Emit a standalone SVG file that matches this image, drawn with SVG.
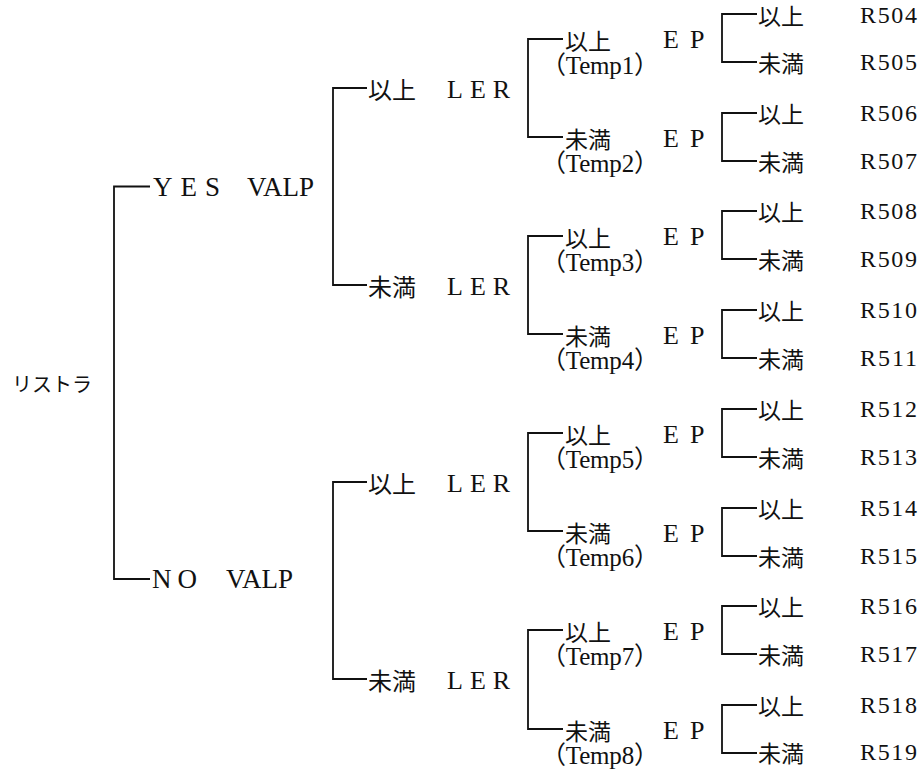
<svg xmlns="http://www.w3.org/2000/svg" width="922" height="769" viewBox="0 0 922 769">
<style>
  .ln { stroke: #111; stroke-width: 1.8; fill: none; }
  text { fill: #111; dominant-baseline: central; }
  .lat { font-family: "Liberation Serif", "Times New Roman", serif; }
  .jp { font-family: "Noto Sans CJK JP", sans-serif; font-size: 23px; }
  .jpb { font-family: "Noto Sans CJK JP", sans-serif; font-size: 24px; }
  .big { font-size: 27px; }
  .ler { font-size: 26px; letter-spacing: 7px; }
  .ep { font-size: 26px; letter-spacing: 11px; }
  .rc { font-size: 24px; }
  .tmp { font-family: "Liberation Serif", "Noto Sans CJK JP", serif; font-size: 25px; }
</style>
<rect width="922" height="769" fill="#fff"/>

<g id="connectors">
  <path class="ln" d="M150,186.5 H114 V579 H150"/>
  <path class="ln" d="M367,88 H333 V285 H367"/>
  <path class="ln" d="M367,482 H333 V679 H367"/>
  <path class="ln" d="M563,39 H528 V137 H563"/>
  <path class="ln" d="M563,236 H528 V334 H563"/>
  <path class="ln" d="M563,433 H528 V531 H563"/>
  <path class="ln" d="M563,630 H528 V729 H563"/>
  <path class="ln" d="M757,14 H722 V62 H757"/>
  <path class="ln" d="M757,113 H722 V161 H757"/>
  <path class="ln" d="M757,211 H722 V259 H757"/>
  <path class="ln" d="M757,310 H722 V358 H757"/>
  <path class="ln" d="M757,409 H722 V457 H757"/>
  <path class="ln" d="M757,508 H722 V556 H757"/>
  <path class="ln" d="M757,606 H722 V654 H757"/>
  <path class="ln" d="M757,705 H722 V753 H757"/>
</g>

<g id="root"><text class="jp" x="12" y="383" style="font-size:20px">リストラ</text></g>

<g id="yes"><text class="lat big" x="153" y="186.5" style="letter-spacing:8px">YES</text><text class="lat big" x="247" y="186.5">VALP</text></g>
<g id="no"><text class="lat big" x="152" y="579" style="letter-spacing:6px">NO</text><text class="lat big" x="226" y="579">VALP</text></g>

<g id="ler1"><text class="jpb" x="368" y="88">以上</text><text class="lat ler" x="447" y="89">LER</text></g>
<g id="ler2"><text class="jpb" x="368" y="285">未満</text><text class="lat ler" x="447" y="286">LER</text></g>
<g id="ler3"><text class="jpb" x="368" y="482">以上</text><text class="lat ler" x="447" y="483">LER</text></g>
<g id="ler4"><text class="jpb" x="368" y="679">未満</text><text class="lat ler" x="447" y="680">LER</text></g>

<g id="temp1"><text class="jp" x="565" y="40">以上</text><text class="tmp" x="541" y="65" textLength="118">（Temp1）</text></g>
<g id="temp2"><text class="jp" x="565" y="138">未満</text><text class="tmp" x="541" y="163" textLength="118">（Temp2）</text></g>
<g id="temp3"><text class="jp" x="565" y="237">以上</text><text class="tmp" x="541" y="262" textLength="118">（Temp3）</text></g>
<g id="temp4"><text class="jp" x="565" y="335">未満</text><text class="tmp" x="541" y="360" textLength="118">（Temp4）</text></g>
<g id="temp5"><text class="jp" x="565" y="434">以上</text><text class="tmp" x="541" y="459" textLength="118">（Temp5）</text></g>
<g id="temp6"><text class="jp" x="565" y="532">未満</text><text class="tmp" x="541" y="557" textLength="118">（Temp6）</text></g>
<g id="temp7"><text class="jp" x="565" y="631">以上</text><text class="tmp" x="541" y="656" textLength="118">（Temp7）</text></g>
<g id="temp8"><text class="jp" x="565" y="730">未満</text><text class="tmp" x="541" y="755" textLength="118">（Temp8）</text></g>

<g id="ep1"><text class="lat ep" x="663" y="39">EP</text></g>
<g id="ep2"><text class="lat ep" x="663" y="138">EP</text></g>
<g id="ep3"><text class="lat ep" x="663" y="236">EP</text></g>
<g id="ep4"><text class="lat ep" x="663" y="335">EP</text></g>
<g id="ep5"><text class="lat ep" x="663" y="434">EP</text></g>
<g id="ep6"><text class="lat ep" x="663" y="533">EP</text></g>
<g id="ep7"><text class="lat ep" x="663" y="631">EP</text></g>
<g id="ep8"><text class="lat ep" x="663" y="730">EP</text></g>

<g id="r504"><text class="jp" x="758" y="15">以上</text><text class="lat rc" x="860" y="15" textLength="57">R504</text></g>
<g id="r505"><text class="jp" x="758" y="62">未満</text><text class="lat rc" x="860" y="62" textLength="57">R505</text></g>
<g id="r506"><text class="jp" x="758" y="113">以上</text><text class="lat rc" x="860" y="113" textLength="57">R506</text></g>
<g id="r507"><text class="jp" x="758" y="161">未満</text><text class="lat rc" x="860" y="161" textLength="57">R507</text></g>
<g id="r508"><text class="jp" x="758" y="211">以上</text><text class="lat rc" x="860" y="211" textLength="57">R508</text></g>
<g id="r509"><text class="jp" x="758" y="259">未満</text><text class="lat rc" x="860" y="259" textLength="57">R509</text></g>
<g id="r510"><text class="jp" x="758" y="310">以上</text><text class="lat rc" x="860" y="310" textLength="57">R510</text></g>
<g id="r511"><text class="jp" x="758" y="358">未満</text><text class="lat rc" x="860" y="358" textLength="57">R511</text></g>
<g id="r512"><text class="jp" x="758" y="409">以上</text><text class="lat rc" x="860" y="409" textLength="57">R512</text></g>
<g id="r513"><text class="jp" x="758" y="457">未満</text><text class="lat rc" x="860" y="457" textLength="57">R513</text></g>
<g id="r514"><text class="jp" x="758" y="508">以上</text><text class="lat rc" x="860" y="508" textLength="57">R514</text></g>
<g id="r515"><text class="jp" x="758" y="556">未満</text><text class="lat rc" x="860" y="556" textLength="57">R515</text></g>
<g id="r516"><text class="jp" x="758" y="606">以上</text><text class="lat rc" x="860" y="606" textLength="57">R516</text></g>
<g id="r517"><text class="jp" x="758" y="654">未満</text><text class="lat rc" x="860" y="654" textLength="57">R517</text></g>
<g id="r518"><text class="jp" x="758" y="705">以上</text><text class="lat rc" x="860" y="705" textLength="57">R518</text></g>
<g id="r519"><text class="jp" x="758" y="752">未満</text><text class="lat rc" x="860" y="752" textLength="57">R519</text></g>
</svg>
